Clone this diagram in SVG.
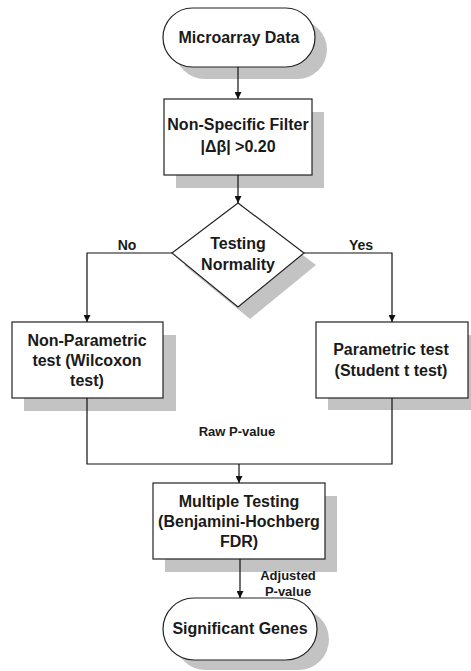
<svg xmlns="http://www.w3.org/2000/svg" width="471" height="671" viewBox="0 0 471 671">
<defs>
<style>
.shape{fill:#ffffff;stroke:#222222;stroke-width:1.2}
.shadow{fill:#c3c3c3;stroke:none}
.t{font-family:"Liberation Sans",Arial,sans-serif;font-weight:bold;font-size:16px;fill:#1a1a1a;text-anchor:middle}
.lbl{font-family:"Liberation Sans",Arial,sans-serif;font-weight:bold;font-size:13px;fill:#1a1a1a;text-anchor:middle}
.br{font-size:14px}
.c{fill:none;stroke:#111111;stroke-width:1.2}
</style>
<marker id="arr" viewBox="0 0 10 10" refX="10" refY="5" markerWidth="7" markerHeight="7" markerUnits="userSpaceOnUse" orient="auto">
<path d="M0,0 L10,5 L0,10 z" fill="#111111"/>
</marker>
</defs>
<rect width="471" height="671" fill="#ffffff"/>

<g id="microarray">
<rect class="shadow" x="175" y="20" width="152" height="59" rx="29.5"/>
<rect class="shape" x="163" y="8" width="152" height="59" rx="29.5"/>
<text class="t" x="239" y="43">Microarray Data</text>
</g>

<g id="filter">
<rect class="shadow" x="176" y="112" width="148" height="76"/>
<rect class="shape" x="164" y="99" width="148" height="76"/>
<text class="t" x="238" y="130">Non-Specific Filter</text>
<text class="t" x="238" y="152">|Δβ| &gt;0.20</text>
</g>

<g id="normality">
<polygon class="shadow" points="250,215 316,265 250,319 184,265"/>
<polygon class="shape" points="238,203 304,253 238,307 172,253"/>
<text class="t" x="238" y="249">Testing</text>
<text class="t" x="238" y="270">Normality</text>
</g>

<g id="nonparametric">
<rect class="shadow" x="24" y="335" width="152" height="76"/>
<rect class="shape" x="12" y="322" width="151" height="76"/>
<text class="t" x="87" y="346">Non-Parametric</text>
<text class="t" x="87" y="366">test (Wilcoxon</text>
<text class="t" x="87" y="386">test)</text>
</g>

<g id="parametric">
<rect class="shadow" x="328" y="335" width="152" height="75"/>
<rect class="shape" x="316" y="322" width="152" height="76"/>
<text class="t" x="391" y="355">Parametric test</text>
<text class="t" x="391" y="376">(Student t test)</text>
</g>

<g id="multiple">
<rect class="shadow" x="165" y="496" width="172" height="76"/>
<rect class="shape" x="153" y="483" width="172" height="76"/>
<text class="t" x="239" y="507">Multiple Testing</text>
<text class="t" x="239" y="527">(Benjamini-Hochberg</text>
<text class="t" x="239" y="547">FDR)</text>
</g>

<g id="significant">
<rect class="shadow" x="175" y="609" width="154" height="61" rx="30.5"/>
<rect class="shape" x="163" y="598" width="154" height="62" rx="31"/>
<text class="t" x="240" y="634">Significant Genes</text>
</g>

<g id="connectors">
<line class="c" x1="238" y1="67" x2="238" y2="99" marker-end="url(#arr)"/>
<line class="c" x1="238" y1="175" x2="238" y2="203" marker-end="url(#arr)"/>
<polyline class="c" points="172,253 87,253 87,322" marker-end="url(#arr)"/>
<polyline class="c" points="304,253 392,253 392,322" marker-end="url(#arr)"/>
<polyline class="c" points="87,398 87,464 392,464 392,398"/>
<line class="c" x1="239" y1="464" x2="239" y2="483" marker-end="url(#arr)"/>
<line class="c" x1="240" y1="559" x2="240" y2="598" marker-end="url(#arr)"/>
<text class="lbl br" x="127" y="250">No</text>
<text class="lbl br" x="361" y="250">Yes</text>
<text class="lbl" x="237" y="436">Raw P-value</text>
<text class="lbl" x="288" y="580">Adjusted</text>
<text class="lbl" x="288" y="596">P-value</text>
</g>
</svg>
